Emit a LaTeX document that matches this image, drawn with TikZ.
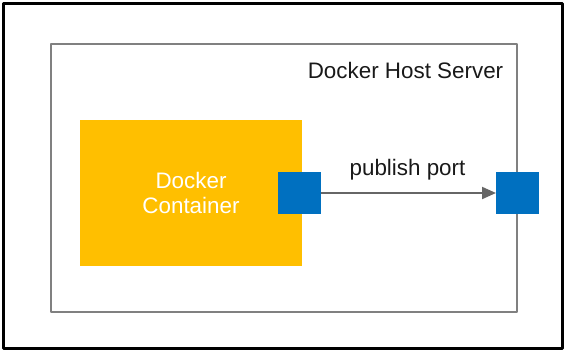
\documentclass[tikz,border=0pt]{standalone}
\usepackage{fontspec}
\setmainfont{Liberation Sans}
\usetikzlibrary{arrows.meta}
\definecolor{dockorange}{HTML}{FFBF00}
\definecolor{portblue}{HTML}{0070C0}
\definecolor{hostgray}{HTML}{808080}
\definecolor{arrowgray}{HTML}{666666}
\begin{document}
\begin{tikzpicture}[x=1pt, y=-1pt, line join=round,
		font=\fontsize{22.4}{25.5}\selectfont,
		host/.style={draw=hostgray, line width=2.5pt, minimum width=466pt, minimum height=268pt, inner sep=0pt, outer sep=0pt},
		box/.style={fill=dockorange, text=white, align=center, minimum width=222pt, minimum height=146pt, inner sep=0pt, outer sep=0pt},
		port/.style={fill=portblue, minimum width=43pt, minimum height=42pt, inner sep=0pt, outer sep=0pt},
		lbl/.style={text=black!90, inner sep=0pt, anchor=base}]
		\useasboundingbox (0,0) rectangle (564,351);
		\draw[line width=3pt] (3,3) rectangle (562,348);
		\node[host] (srv) at (284,178) {};
		\node[lbl] (srvname) at (405.5,78) {Docker Host Server};
		\node[box] (ctr) at (191,193) {Docker\\Container};
		\foreach \n/\x in {pa/299.5,pb/517.5}{
			\node[port] (\n) at (\x,193) {};
		}
		\draw[arrowgray, line width=2pt, -{Triangle[length=14pt, width=12pt]}] (pa.east)--(pb.west);
		\node[lbl] (pub) at (407.5,175) {publish port};
	\end{tikzpicture}
\end{document}
